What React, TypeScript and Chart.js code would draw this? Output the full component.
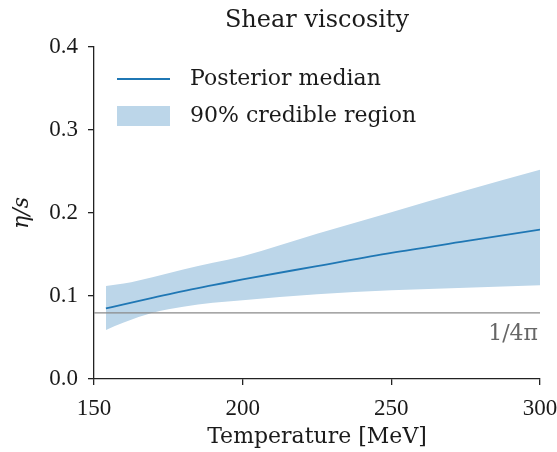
import React, { useEffect, useRef } from "react";
import { Chart, registerables } from "chart.js";

Chart.register(...registerables);

const temperature = [154, 160, 170, 180, 190, 200, 225, 250, 275, 300];
const medianEta = [0.085, 0.09, 0.098, 0.106, 0.113, 0.12, 0.136, 0.152, 0.166, 0.18];
const upperEta = [0.112, 0.115, 0.123, 0.132, 0.14, 0.148, 0.175, 0.201, 0.227, 0.252];
const lowerEta = [0.059, 0.068, 0.08, 0.087, 0.092, 0.095, 0.102, 0.107, 0.11, 0.113];
const boundX = [150, 300];
const boundValue = 1 / (4 * Math.PI);
const xTicks = [150, 200, 250, 300];
const yTicks = [0, 0.1, 0.2, 0.3, 0.4];

const TITLE = "Shear viscosity";
const X_LABEL = "Temperature [MeV]";
const Y_LABEL = "η/s";
const BOUND_LABEL = "1/4π";
const LINE_LABEL = "Posterior median";
const BAND_LABEL = "90% credible region";

const FONT = "'DejaVu Serif', serif";
const TICK_FONT = "'Liberation Serif', serif";
const LINE_COLOR = "#1f77b4";
const BAND_COLOR = "rgb(188,214,233)";

const textPlugin = {
  id: "texts",
  afterDraw(chart: any) {
    const ctx = chart.ctx as CanvasRenderingContext2D;
    const area = chart.chartArea;
    const cx = (area.left + area.right) / 2;
    ctx.save();
    ctx.fillStyle = "#1a1a1a";
    ctx.textAlign = "center";
    ctx.textBaseline = "middle";
    ctx.font = `24px ${FONT}`;
    ctx.fillText(TITLE, cx, 21);
    ctx.font = `22px ${FONT}`;
    ctx.fillText(X_LABEL, cx, 437);
    ctx.save();
    ctx.translate(22, (area.top + area.bottom) / 2);
    ctx.rotate(-Math.PI / 2);
    ctx.font = `italic 22px ${FONT}`;
    ctx.fillText(Y_LABEL, 0, 0);
    ctx.restore();
    // bound label
    ctx.fillStyle = "#666";
    ctx.textAlign = "right";
    ctx.font = `22px ${FONT}`;
    const yb = chart.scales.y.getPixelForValue(boundValue);
    ctx.fillText(BOUND_LABEL, area.right - 2, yb + 21);
    // legend
    ctx.textAlign = "left";
    ctx.fillStyle = "#1a1a1a";
    ctx.strokeStyle = LINE_COLOR;
    ctx.lineWidth = 1.8;
    ctx.beginPath();
    ctx.moveTo(117, 79);
    ctx.lineTo(170, 79);
    ctx.stroke();
    ctx.font = `22px ${FONT}`;
    ctx.fillText(LINE_LABEL, 190, 79);
    ctx.fillStyle = BAND_COLOR;
    ctx.fillRect(117, 106, 53, 20);
    ctx.fillStyle = "#1a1a1a";
    ctx.fillText(BAND_LABEL, 190, 116);
    ctx.restore();
  },
};

export default function App() {
  const ref = useRef<HTMLCanvasElement | null>(null);
  useEffect(() => {
    document.body.style.margin = "0";
    const canvas = ref.current;
    if (!canvas) return;
    const chart = new Chart(canvas, {
      type: "line",
      data: {
        datasets: [
          {
            label: "upper",
            data: temperature.map((t, i) => ({ x: t, y: upperEta[i] })),
            borderWidth: 0,
            borderColor: BAND_COLOR,
            backgroundColor: BAND_COLOR,
            pointRadius: 0,
            fill: "+1",
            order: 3,
            cubicInterpolationMode: "monotone",
          },
          {
            label: "lower",
            data: temperature.map((t, i) => ({ x: t, y: lowerEta[i] })),
            borderWidth: 0,
            borderColor: BAND_COLOR,
            backgroundColor: BAND_COLOR,
            pointRadius: 0,
            fill: false,
            order: 2,
            cubicInterpolationMode: "monotone",
          },
          {
            label: "bound",
            data: boundX.map((t) => ({ x: t, y: boundValue })),
            borderWidth: 1.3,
            borderColor: "#8a8a8a",
            pointRadius: 0,
            fill: false,
            order: 1,
          },
          {
            label: "median",
            data: temperature.map((t, i) => ({ x: t, y: medianEta[i] })),
            borderWidth: 1.8,
            borderColor: LINE_COLOR,
            pointRadius: 0,
            fill: false,
            order: 0,
            cubicInterpolationMode: "monotone",
          },
        ],
      },
      options: {
        animation: false,
        responsive: false,
        layout: { padding: { left: 0, top: 47, right: 17, bottom: 0 } },
        plugins: { legend: { display: false }, tooltip: { enabled: false }, title: { display: false } },
        scales: {
          x: {
            type: "linear",
            min: 150,
            max: 300,
            afterBuildTicks: (s: any) => {
              s.ticks = xTicks.map((v) => ({ value: v }));
            },
            afterFit: (s: any) => {
              s.height = 73;
              s.paddingLeft = 0;
              s.paddingRight = 0;
            },
            ticks: {
              color: "#1a1a1a",
              font: { family: TICK_FONT, size: 23 },
              padding: 10,
              maxRotation: 0,
              callback: (v: any) => String(v),
            },
            grid: { drawOnChartArea: false, drawTicks: true, tickLength: 6, color: "#222", lineWidth: 1.3 },
            border: { display: true, color: "#222", width: 1.3 },
          },
          y: {
            min: 0,
            max: 0.4,
            afterBuildTicks: (s: any) => {
              s.ticks = yTicks.map((v) => ({ value: v }));
            },
            afterFit: (s: any) => {
              s.width = 94;
            },
            ticks: {
              color: "#1a1a1a",
              font: { family: TICK_FONT, size: 23 },
              padding: 10,
              callback: (v: any) => Number(v).toFixed(1),
            },
            grid: { drawOnChartArea: false, drawTicks: true, tickLength: 6, color: "#222", lineWidth: 1.3 },
            border: { display: true, color: "#222", width: 1.3 },
          },
        },
      } as any,
      plugins: [textPlugin],
    });
    return () => chart.destroy();
  }, []);
  return <canvas ref={ref} width={557} height={452} style={{ display: "block" }} />;
}
